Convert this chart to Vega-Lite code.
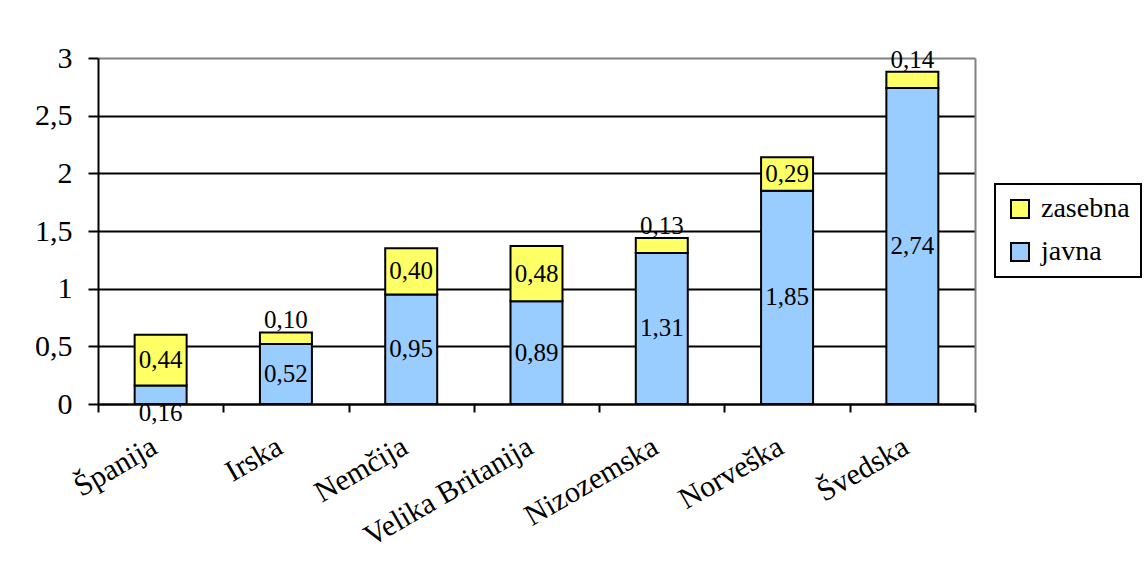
{
  "$schema": "https://vega.github.io/schema/vega-lite/v6.json",
  "width": 877,
  "height": 346,
  "autosize": {"type": "none"},
  "padding": {"left": 98, "top": 58, "right": 169, "bottom": 172},
  "background": "white",
  "data": {
    "values": [
      {"country": "Španija", "type": "javna", "value": 0.16},
      {"country": "Španija", "type": "zasebna", "value": 0.44},
      {"country": "Irska", "type": "javna", "value": 0.52},
      {"country": "Irska", "type": "zasebna", "value": 0.10},
      {"country": "Nemčija", "type": "javna", "value": 0.95},
      {"country": "Nemčija", "type": "zasebna", "value": 0.40},
      {"country": "Velika Britanija", "type": "javna", "value": 0.89},
      {"country": "Velika Britanija", "type": "zasebna", "value": 0.48},
      {"country": "Nizozemska", "type": "javna", "value": 1.31},
      {"country": "Nizozemska", "type": "zasebna", "value": 0.13},
      {"country": "Norveška", "type": "javna", "value": 1.85},
      {"country": "Norveška", "type": "zasebna", "value": 0.29},
      {"country": "Švedska", "type": "javna", "value": 2.74},
      {"country": "Švedska", "type": "zasebna", "value": 0.14}
    ]
  },
  "transform": [
    {"stack": "value", "groupby": ["country"], "sort": [{"field": "type", "order": "ascending"}], "as": ["y0", "y1"]}
  ],
  "encoding": {
    "x": {
      "field": "country",
      "type": "nominal",
      "sort": ["Španija", "Irska", "Nemčija", "Velika Britanija", "Nizozemska", "Norveška", "Švedska"],
      "scale": {"paddingInner": 0, "paddingOuter": 0},
      "axis": {
        "title": null,
        "grid": false,
        "tickBand": "extent",
        "ticks": true,
        "tickSize": 8,
        "tickWidth": 2,
        "tickColor": "black",
        "domainColor": "black",
        "domainWidth": 2,
        "labelAngle": -30,
        "labelAlign": "right",
        "labelBaseline": "top",
        "labelFont": "Liberation Serif",
        "labelFontSize": 30,
        "labelColor": "black",
        "labelPadding": 19,
        "labelOffset": -14,
        "labelLimit": 400
      }
    }
  },
  "layer": [
    {
      "mark": {"type": "bar", "stroke": "black", "strokeWidth": 2, "width": {"band": 0.415}},
      "encoding": {
        "y": {
          "field": "y0",
          "type": "quantitative",
          "scale": {"domain": [0, 3], "nice": false},
          "axis": {
            "title": null,
            "values": [0, 0.5, 1, 1.5, 2, 2.5, 3],
            "format": "~g",
            "grid": true,
            "gridColor": {"condition": {"test": "datum.value === 3", "value": "#808080"}, "value": "black"},
            "gridWidth": 2,
            "domainColor": "black",
            "domainWidth": 2,
            "tickColor": "black",
            "tickWidth": 2,
            "tickSize": 10,
            "labelFont": "Liberation Serif",
            "labelFontSize": 30,
            "labelColor": "black",
            "labelPadding": 16
          }
        },
        "y2": {"field": "y1"},
        "color": {
          "field": "type",
          "type": "nominal",
          "scale": {"domain": ["zasebna", "javna"], "range": ["#FFFF66", "#99CCFF"]},
          "legend": {
            "title": null,
            "orient": "none",
            "legendX": 897,
            "legendY": 126,
            "symbolType": "square",
            "symbolSize": 324,
            "symbolOpacity": 1,
            "symbolStrokeColor": "black",
            "symbolStrokeWidth": 2,
            "labelFont": "Liberation Serif",
            "labelFontSize": 28,
            "labelColor": "black",
            "labelOffset": 7,
            "labelLimit": 300,
            "rowPadding": 15,
            "padding": 11,
            "strokeColor": "black"
          }
        }
      }
    },
    {
      "transform": [
        {"filter": "datum.value >= 0.2"},
        {"fold": ["y0", "y1"], "as": ["edge", "pos"]},
        {"aggregate": [{"op": "mean", "field": "pos", "as": "mid"}], "groupby": ["country", "type", "value"]}
      ],
      "mark": {"type": "text", "font": "Liberation Serif", "fontSize": 25, "color": "black", "baseline": "middle"},
      "encoding": {
        "y": {"field": "mid", "type": "quantitative", "axis": null},
        "text": {"field": "value", "type": "quantitative", "format": ".2f"}
      }
    },
    {
      "transform": [{"filter": "datum.value < 0.2 && datum.type === 'zasebna'"}],
      "mark": {"type": "text", "font": "Liberation Serif", "fontSize": 25, "color": "black", "baseline": "alphabetic", "dy": -4},
      "encoding": {
        "y": {
          "field": "y1",
          "type": "quantitative",
          "axis": {"orient": "right", "title": null, "labels": false, "ticks": false, "grid": false, "domainColor": "#808080", "domainWidth": 2}
        },
        "text": {"field": "value", "type": "quantitative", "format": ".2f"}
      }
    },
    {
      "transform": [{"filter": "datum.value < 0.2 && datum.type === 'javna'"}],
      "mark": {"type": "text", "font": "Liberation Serif", "fontSize": 25, "color": "black", "baseline": "top", "dy": -3},
      "encoding": {
        "y": {"field": "y0", "type": "quantitative", "axis": null},
        "text": {"field": "value", "type": "quantitative", "format": ".2f"}
      }
    }
  ],
  "resolve": {"axis": {"y": "independent"}},
  "config": {
    "locale": {"number": {"decimal": ",", "thousands": ".", "grouping": [3], "currency": ["", " €"]}},
    "view": {"stroke": null},
    "legend": {"strokeWidth": 2, "labelFont": "Liberation Serif"},
    "axis": {"labelFont": "Liberation Serif"},
    "font": "Liberation Serif"
  }
}
